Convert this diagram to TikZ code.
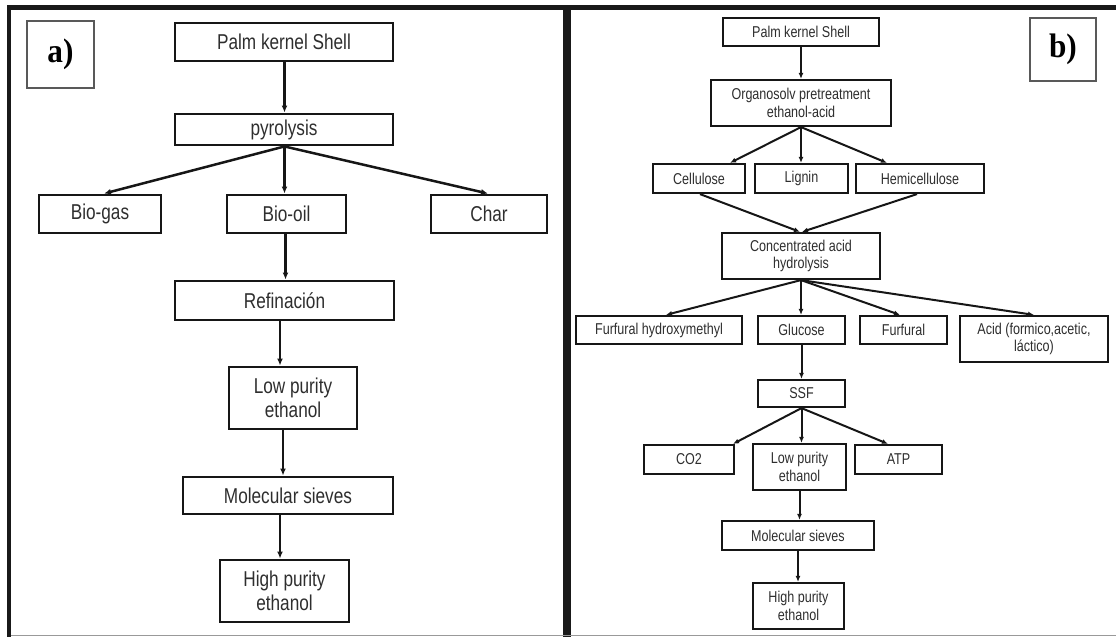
\documentclass[tikz,border=0pt]{standalone}
\usepackage{fontspec}
\usetikzlibrary{arrows.meta}
\newfontfamily\lsans{Liberation Sans}[FakeStretch=0.8]
\newfontfamily\lserif{Liberation Serif}[FakeStretch=0.92]
\definecolor{txt}{HTML}{2E2E2E}
\definecolor{edge}{HTML}{161616}
\begin{document}
\begin{tikzpicture}[x=1pt,y=-1pt,
  lbox/.style={draw=edge,line width=2.9pt,inner sep=0pt,align=center,text=txt,
    font=\lsans\fontsize{21.5}{23.7}\selectfont},
  rbox/.style={draw=edge,line width=2.2pt,inner sep=0pt,align=center,text=txt,
    font=\lsans\fontsize{15.7}{17.3}\selectfont},
  labbox/.style={draw=black!65,line width=1.2pt,inner sep=0pt,
    font=\lserif\bfseries\fontsize{34}{36}\selectfont},
  larr/.style={draw=edge,line width=2.5pt,-{Latex[length=7pt,width=6pt]}},
  rarr/.style={draw=edge,line width=2pt,-{Latex[length=6pt,width=5pt]}},
  frame/.style={draw=black!90}]
\useasboundingbox (0,0) rectangle (1116,637);
% frame
\draw[frame,line width=5pt] (7,7.5) -- (1116,7.5);
\draw[frame,line width=4.5pt] (9,5) -- (9,637);
\draw[frame,line width=8pt] (567,5) -- (567,637);
\draw[black!40,line width=1.2pt] (11,635.5) -- (1116,635.5);

% ---------- panel a ----------
\node[labbox,minimum width=67pt,minimum height=67pt] (La) at (60.5,54.5) {a)};
\node[lbox,minimum width=218pt,minimum height=38pt] (LPKS) at (284,42) {Palm kernel Shell};
\node[lbox,minimum width=218pt,minimum height=31pt] (Lpyr) at (284,129.5) {pyrolysis};
\node[lbox,minimum width=122pt,minimum height=38pt] (Lbiogas) at (100,214) {Bio-gas};
\node[lbox,minimum width=119pt,minimum height=38pt] (Lbiooil) at (286.5,214) {Bio-oil};
\node[lbox,minimum width=116pt,minimum height=38pt] (Lchar) at (489,214) {Char};
\node[lbox,minimum width=219pt,minimum height=39pt] (Lref) at (284.5,300.5) {Refinación};
\node[lbox,minimum width=128pt,minimum height=62pt] (Llow) at (293,398) {Low purity\\ethanol};
\node[lbox,minimum width=210pt,minimum height=37pt] (Lmol) at (288,495.5) {Molecular sieves};
\node[lbox,minimum width=129pt,minimum height=62pt] (Lhigh) at (284.5,591) {High purity\\ethanol};

\draw[larr] ([xshift=0.5pt]LPKS.south) -- ([xshift=0.5pt]Lpyr.north);
\draw[larr] ([xshift=0.5pt]Lpyr.south) -- ([xshift=4pt]Lbiogas.north);
\draw[larr] ([xshift=0.5pt]Lpyr.south) -- ([xshift=-2pt]Lbiooil.north);
\draw[larr] ([xshift=0.5pt]Lpyr.south) -- ([xshift=-1pt]Lchar.north);
\draw[larr] ([xshift=-1pt]Lbiooil.south) -- ([xshift=1pt]Lref.north);
\draw[larr] ([xshift=-4.5pt]Lref.south) -- ([xshift=-13pt]Llow.north);
\draw[larr] ([xshift=-10pt]Llow.south) -- ([xshift=-5pt]Lmol.north);
\draw[larr] ([xshift=-8pt]Lmol.south) -- ([xshift=-4.5pt]Lhigh.north);

% ---------- panel b ----------
\node[labbox,minimum width=66pt,minimum height=63pt] (Rb) at (1063,49.5) {b)};
\node[rbox,minimum width=156pt,minimum height=28pt] (RPKS) at (801,32) {Palm kernel Shell};
\node[rbox,minimum width=180pt,minimum height=46pt] (Rorg) at (801,103) {Organosolv pretreatment\\ethanol-acid};
\node[rbox,minimum width=92pt,minimum height=29pt] (Rcel) at (699,178.5) {Cellulose};
\node[rbox,minimum width=93pt,minimum height=29pt] (Rlig) at (801.5,178.5) {Lignin};
\node[rbox,minimum width=128pt,minimum height=29pt] (Rhemi) at (920,178.5) {Hemicellulose};
\node[rbox,minimum width=158pt,minimum height=46pt] (Rcah) at (801,256) {Concentrated acid\\hydrolysis};
\node[rbox,minimum width=166pt,minimum height=28pt] (Rfh) at (659,330) {Furfural hydroxymethyl};
\node[rbox,minimum width=87pt,minimum height=28pt] (Rglu) at (801.5,330) {Glucose};
\node[rbox,minimum width=87pt,minimum height=28pt] (Rfur) at (903.5,330) {Furfural};
\node[rbox,minimum width=148pt,minimum height=46pt] (Racid) at (1034,339) {Acid (formico,acetic,\\láctico)};
\node[rbox,minimum width=87pt,minimum height=27pt] (Rssf) at (801.5,393.5) {SSF};
\node[rbox,minimum width=90pt,minimum height=29pt] (Rco2) at (689,459.5) {CO2};
\node[rbox,minimum width=93pt,minimum height=46pt] (Rlow) at (799.5,467) {Low purity\\ethanol};
\node[rbox,minimum width=87pt,minimum height=29pt] (Ratp) at (898.5,459.5) {ATP};
\node[rbox,minimum width=152pt,minimum height=29pt] (Rmol) at (798,535.5) {Molecular sieves};
\node[rbox,minimum width=91pt,minimum height=46pt] (Rhigh) at (798.5,606) {High purity\\ethanol};

\draw[rarr] (RPKS.south) -- (Rorg.north);
\draw[rarr] (Rorg.south) -- ([xshift=31pt]Rcel.north);
\draw[rarr] (Rorg.south) -- (Rorg.south |- Rlig.north);
\draw[rarr] (Rorg.south) -- ([xshift=-33pt]Rhemi.north);
\draw[rarr] ([xshift=1pt]Rcel.south) -- ([xshift=-1pt]Rcah.north);
\draw[rarr] ([xshift=-3pt]Rhemi.south) -- ([xshift=1pt]Rcah.north);
\draw[rarr] (Rcah.south) -- ([xshift=7pt]Rfh.north);
\draw[rarr] (Rcah.south) -- (Rcah.south |- Rglu.north);
\draw[rarr] (Rcah.south) -- ([xshift=-3.5pt]Rfur.north);
\draw[rarr] (Rcah.south) -- (Racid.north);
\draw[rarr] (Rglu.south) -- (Rssf.north);
\draw[rarr] (Rssf.south) -- ([xshift=44pt]Rco2.north);
\draw[rarr] (Rssf.south) -- (Rssf.south |- Rlow.north);
\draw[rarr] (Rssf.south) -- ([xshift=-10.5pt]Ratp.north);
\draw[rarr] (Rlow.south) -- (Rlow.south |- Rmol.north);
\draw[rarr] (Rmol.south) -- (Rmol.south |- Rhigh.north);
\end{tikzpicture}
\end{document}
